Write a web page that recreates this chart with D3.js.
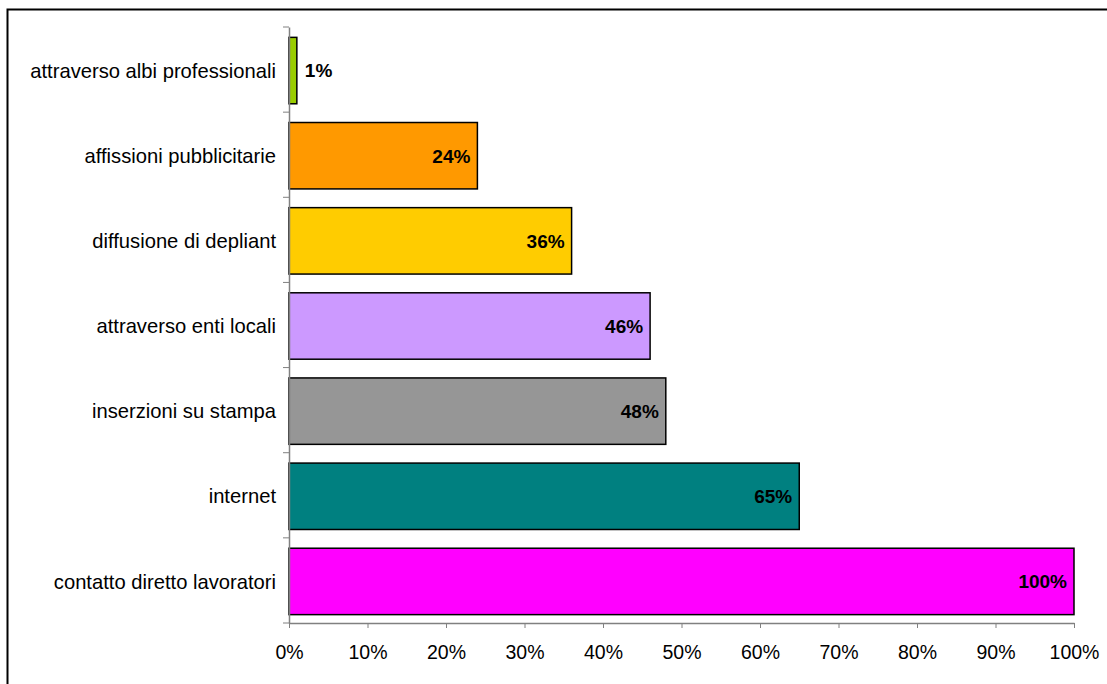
<!DOCTYPE html>
<html>
<head>
<meta charset="utf-8">
<script src="https://cdn.jsdelivr.net/npm/d3@7"></script>
<style>
body { margin: 0; background: #fff; }
text { font-family: Arial, "Liberation Sans", sans-serif; }
</style>
</head>
<body>
<svg width="1107" height="684"></svg>
<script>
var categories = ["attraverso albi professionali", "affissioni pubblicitarie", "diffusione di depliant",
	"attraverso enti locali", "inserzioni su stampa", "internet", "contatto diretto lavoratori"];
var values = [1, 24, 36, 46, 48, 65, 100];
var colors = ["#99CC00", "#FF9900", "#FFCC00", "#CC99FF", "#969696", "#008080", "#FF00FF"];
var ticks = [0, 10, 20, 30, 40, 50, 60, 70, 80, 90, 100];

var svg = d3.select("svg"),
	margin = { top: 27, right: 33, bottom: 61, left: 289 },
	width = +svg.attr("width") - margin.left - margin.right,
	height = +svg.attr("height") - margin.top - margin.bottom;

// frame (only top and left edges show in the picture)
svg.append("rect")
	.attr("x", 7.5).attr("y", 9.5)
	.attr("width", 1120).attr("height", 700)
	.attr("fill", "none").attr("stroke", "#000").attr("stroke-width", 2);

var x = d3.scaleLinear().domain([0, 100]).range([0, width]);
var y = d3.scaleBand().domain(categories).range([0, height]).paddingInner(0.22).paddingOuter(0.11);

var g = svg.append("g")
	.attr("transform", "translate(" + margin.left + "," + margin.top + ")");

g.selectAll(".bar")
	.data(categories)
	.enter().append("rect")
	.attr("class", "bar")
	.attr("x", x(0))
	.attr("y", function(d) { return y(d) + 1; })
	.attr("width", function(d, i) { return x(values[i]) - x(0); })
	.attr("height", y.bandwidth())
	.attr("fill", function(d, i) { return colors[i]; })
	.attr("stroke", "#000")
	.attr("stroke-width", 1.5);

g.selectAll(".val")
	.data(categories)
	.enter().append("text")
	.attr("class", "val")
	.attr("x", function(d, i) { return values[i] < 5 ? x(values[i]) + 8 : x(values[i]) - 7; })
	.attr("y", function(d) { return y(d) + 1 + y.bandwidth() / 2; })
	.attr("dy", "0.36em")
	.attr("text-anchor", function(d, i) { return values[i] < 5 ? "start" : "end"; })
	.style("font-size", "19px")
	.style("font-weight", "bold")
	.text(function(d, i) { return values[i] + "%"; });

var xAxis = g.append("g")
	.attr("transform", "translate(0," + height + ")")
	.call(d3.axisBottom(x).tickValues(ticks).tickSize(5).tickSizeOuter(0).tickFormat(function(d) { return d + "%"; }));
xAxis.selectAll("text").attr("y", 36).attr("dy", 0).style("font-size", "19.5px").attr("fill", "#000");

var step = y.step();
var yAxis = g.append("g")
	.call(d3.axisLeft(y).tickSize(0).tickPadding(13));
yAxis.selectAll("text").attr("dy", "0.4em").style("font-size", "20.2px").attr("fill", "#000");
// ticks sit between categories
yAxis.selectAll(".sep")
	.data(d3.range(categories.length + 1))
	.enter().append("line")
	.attr("class", "sep")
	.attr("x1", -6).attr("x2", 0)
	.attr("y1", function(i) { return i * step; })
	.attr("y2", function(i) { return i * step; })
	.attr("stroke", "#808080");

g.selectAll(".domain").attr("stroke", "#808080").attr("stroke-width", 1.5);
xAxis.selectAll(".tick line").attr("stroke", "#808080");
</script>
</body>
</html>
